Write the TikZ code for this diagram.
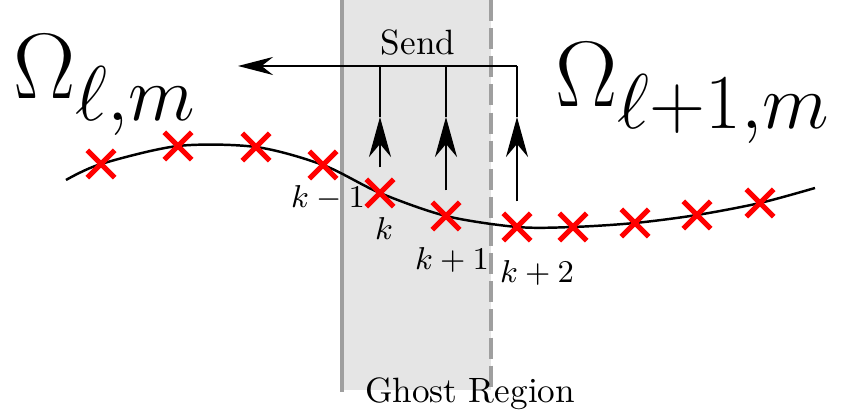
\documentclass[tikz,border=0pt]{standalone}
\usepackage{amsmath}
\usepackage{amssymb}
\usepackage{xcolor}
\usepackage{graphicx}
\usepackage{tikz}
\usetikzlibrary{shapes,positioning,calc,arrows.meta}
\colorlet{ghost}{gray!20}
\colorlet{ghostedge}{gray!75}
\newcommand{\bigmath}[1]{\scalebox{1.065}{\Huge $#1$}}

\begin{document}
\begin{tikzpicture}[x=0.01cm,y=-0.01cm]
\useasboundingbox (0,0) rectangle (847,419);
\pgfmathsetmacro{\gl}{342}
\pgfmathsetmacro{\gr}{491}
\pgfmathsetmacro{\gb}{390}
\pgfmathsetmacro{\sy}{66}
\pgfmathsetmacro{\ty}{117}

\tikzset{
pt/.style={cross out,draw=red,line width=1.5pt,minimum width=0.22cm,minimum height=0.22cm,inner sep=0pt},
up/.style={line width=0.7pt,-{Stealth[length=0.4cm,width=0.22cm]}},
lab/.style={font=\small,inner sep=0pt,anchor=base}
}

\fill[ghost] (\gl,0) rectangle (\gr,\gb);
\draw[ghostedge,line width=0.9pt] (\gl,0)--(\gl,\gb+2);
\draw[ghostedge,line width=0.9pt,dash pattern=on 6pt off 2pt] (\gr,0)--(\gr,\gb);
\node[anchor=base,inner sep=0pt] (ghostlab) at (470,403) {Ghost Region};

\draw[line width=0.7pt] plot[smooth] coordinates
{(66,180) (101,164) (178,146) (256,147) (323,165) (380,193) (446,216)
(517,227) (573,227) (635,223) (697,215) (760,203) (815,188)};

\foreach \n/\px/\py in {1/101/164,2/178/146,3/256/147,4/323/165,5/380/193,
6/446/216,7/517/227,8/573/227,9/635/223,10/697/215,11/760/203} {
\node[pt] (x\n) at (\px,\py) {};
}

\node[lab] (l4) at ([shift={(5,43)}]x4) {$k-1$};
\node[lab] (l5) at ([shift={(4,47)}]x5) {$k$};
\node[lab] (l6) at ([shift={(6,54)}]x6) {$k+1$};
\node[lab] (l7) at ([shift={(20,56)}]x7) {$k+2$};

\coordinate (sl) at (0,\sy);
\coordinate (tl) at (0,\ty);
\coordinate (tip) at (238,\sy);
\coordinate (s7) at (x7 |- sl);

\draw[line width=0.7pt,-{Stealth[length=0.35cm,width=0.18cm]}] (s7) -- (tip);
\foreach \n in {5,6,7} {
\draw[up] ([yshift=0.12cm]x\n.north) -- (x\n |- tl);
\draw[line width=0.7pt] (x\n |- tl) -- (x\n |- sl);
}

\node[anchor=base,inner sep=0pt] (send) at (418,55) {Send};

\node[anchor=base west,inner sep=0pt] (omL) at (13,99) {\bigmath{\Omega_{\ell,m}}};
\node[anchor=base west,inner sep=0pt] (omR) at (555,107) {\bigmath{\Omega_{\ell+1,m}}};
\end{tikzpicture}
\end{document}
